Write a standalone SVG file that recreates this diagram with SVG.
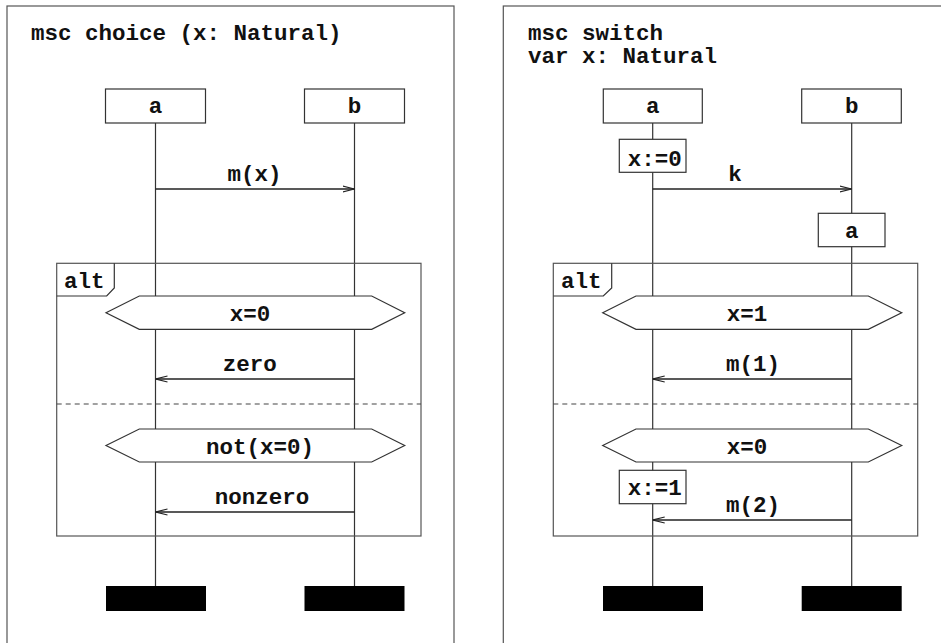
<svg xmlns="http://www.w3.org/2000/svg" width="941" height="643" viewBox="0 0 941 643">
  <defs>
    <style>
      .frame { fill: none; stroke: #555; stroke-width: 1.2; }
      .line { fill: none; stroke: #333; stroke-width: 1.2; }
      .box { fill: #fff; stroke: #333; stroke-width: 1.2; }
      .stop { fill: #000; stroke: none; }
      .dash { fill: none; stroke: #444; stroke-width: 1.2; stroke-dasharray: 5 4; }
      .msg { fill: none; stroke: #222; stroke-width: 1.4; marker-end: url(#open); }
      text { font-family: "Liberation Mono", "Courier New", monospace; font-weight: bold; font-size: 22.5px; fill: #111; }
      .c { text-anchor: middle; }
    </style>
    <marker id="open" viewBox="0 0 12 8" refX="12" refY="4" markerWidth="12" markerHeight="8" markerUnits="userSpaceOnUse" orient="auto">
      <path d="M0,1 L12,4 L0,7" fill="none" stroke="#222" stroke-width="1.1"/>
    </marker>
  </defs>

  <!-- ===== msc choice ===== -->
  <g id="choice">
    <rect class="frame" x="7" y="6" width="447" height="660"/>
    <text x="31" y="40">msc choice (x: Natural)</text>

    <!-- lifelines -->
    <g id="choice-lifelines">
      <line class="line" x1="155.5" y1="123" x2="155.5" y2="586"/>
      <line class="line" x1="354.5" y1="123" x2="354.5" y2="586"/>
    </g>

    <g id="choice-a">
      <rect class="box" x="105.5" y="89" width="100" height="34"/>
      <text class="c" x="155.5" y="113">a</text>
      <rect class="stop" x="106" y="586" width="100" height="25"/>
    </g>
    <g id="choice-b">
      <rect class="box" x="304.5" y="89" width="100" height="34"/>
      <text class="c" x="354.5" y="113">b</text>
      <rect class="stop" x="304.5" y="586" width="100" height="25"/>
    </g>

    <!-- alt inline expression -->
    <g id="choice-alt">
      <rect class="frame" x="56.7" y="263.3" width="364.3" height="272.7"/>
      <path class="line" d="M56.7,296 H106.7 L114.3,288 V263.3"/>
      <text x="64" y="288">alt</text>
      <line class="dash" x1="56.7" y1="404" x2="421" y2="404"/>
    </g>

    <g id="choice-cond1">
      <polygon class="box" points="106,312.7 139.3,296 371.7,296 404.7,312.7 371.7,329.3 139.3,329.3"/>
      <text class="c" x="250" y="321">x=0</text>
    </g>
    <g id="choice-cond2">
      <polygon class="box" points="106,445.5 139.3,429 371.7,429 404.7,445.5 371.7,462 139.3,462"/>
      <text class="c" x="260" y="454">not(x=0)</text>
    </g>

    <g id="choice-messages">
      <line class="msg" x1="155.5" y1="189" x2="354.5" y2="189"/>
      <text class="c" x="254.5" y="181">m(x)</text>
      <line class="msg" x1="354.5" y1="379" x2="155.5" y2="379"/>
      <text class="c" x="249.7" y="371">zero</text>
      <line class="msg" x1="354.5" y1="512" x2="155.5" y2="512"/>
      <text class="c" x="262" y="503.5">nonzero</text>
    </g>
  </g>

  <!-- ===== msc switch ===== -->
  <g id="switch">
    <rect class="frame" x="503.3" y="6" width="460" height="660"/>
    <text x="528" y="40">msc switch</text>
    <text x="528" y="63">var x: Natural</text>

    <g id="switch-lifelines">
      <line class="line" x1="652.7" y1="123" x2="652.7" y2="586"/>
      <line class="line" x1="851.7" y1="123" x2="851.7" y2="586"/>
    </g>

    <g id="switch-a">
      <rect class="box" x="603.3" y="89" width="99" height="34"/>
      <text class="c" x="652.7" y="113">a</text>
      <rect class="stop" x="603" y="586" width="100" height="25"/>
    </g>
    <g id="switch-b">
      <rect class="box" x="801.7" y="89" width="99.6" height="34"/>
      <text class="c" x="851.7" y="113">b</text>
      <rect class="stop" x="801.7" y="586" width="100" height="25"/>
    </g>

    <!-- actions -->
    <g id="switch-set0">
      <rect class="box" x="619.3" y="139.3" width="66.7" height="33"/>
      <text class="c" x="654.7" y="166">x:=0</text>
    </g>
    <g id="switch-action-a">
      <rect class="box" x="818.3" y="213.3" width="66.7" height="33.4"/>
      <text class="c" x="851.7" y="238.3">a</text>
    </g>

    <g id="switch-alt">
      <rect class="frame" x="553.3" y="263.3" width="364.4" height="272.7"/>
      <path class="line" d="M553.3,296 H603.3 L611.7,288 V263.3"/>
      <text x="561" y="288">alt</text>
      <line class="dash" x1="553.3" y1="404" x2="917.7" y2="404"/>
    </g>

    <g id="switch-cond1">
      <polygon class="box" points="602.7,312.7 636,296 868.3,296 901.7,312.7 868.3,329.3 636,329.3"/>
      <text class="c" x="747" y="321">x=1</text>
    </g>
    <g id="switch-cond2">
      <polygon class="box" points="602.7,445.5 636,429 868.3,429 901.7,445.5 868.3,462 636,462"/>
      <text class="c" x="747" y="454">x=0</text>
    </g>
    <g id="switch-set1">
      <rect class="box" x="619.3" y="470.3" width="66.7" height="33.4"/>
      <text class="c" x="654.8" y="495">x:=1</text>
    </g>

    <g id="switch-messages">
      <line class="msg" x1="652.7" y1="189" x2="851.7" y2="189"/>
      <text class="c" x="735" y="181">k</text>
      <line class="msg" x1="851.7" y1="379" x2="652.7" y2="379"/>
      <text class="c" x="753" y="371">m(1)</text>
      <line class="msg" x1="851.7" y1="520" x2="652.7" y2="520"/>
      <text class="c" x="753" y="512">m(2)</text>
    </g>
  </g>
</svg>
